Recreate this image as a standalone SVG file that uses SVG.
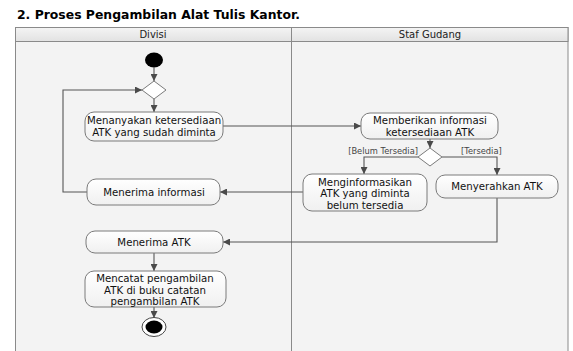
<svg xmlns="http://www.w3.org/2000/svg" width="573" height="351" viewBox="0 0 573 351">
  <defs>
    <linearGradient id="headGrad" x1="0" y1="0" x2="0" y2="1">
      <stop offset="0" stop-color="#f4f4f4"/>
      <stop offset="1" stop-color="#e2e2e2"/>
    </linearGradient>
    <linearGradient id="nodeGrad" x1="0" y1="0" x2="0" y2="1">
      <stop offset="0" stop-color="#ffffff"/>
      <stop offset="1" stop-color="#f0f0f0"/>
    </linearGradient>
    <marker id="arrow" viewBox="0 0 10 10" refX="10" refY="5" markerWidth="7" markerHeight="7" markerUnits="userSpaceOnUse" orient="auto">
      <path d="M0,0 L10,5 L0,10 Z" fill="#4a4a4a"/>
    </marker>
  </defs>
  <style>
    .title { font-family: "DejaVu Sans", Verdana, sans-serif; font-weight: bold; font-size: 12px; fill: #000; }
    .lane-title { font-family: "DejaVu Sans", Tahoma, sans-serif; font-size: 10px; fill: #222; text-anchor: middle; }
    .lane { fill: #f3f3f3; stroke: #8a8a8a; stroke-width: 1; }
    .lane-head { fill: url(#headGrad); stroke: #8a8a8a; stroke-width: 1; }
    .act { fill: url(#nodeGrad); stroke: #7a7a7a; stroke-width: 1; }
    .label { font-family: "DejaVu Sans", Tahoma, sans-serif; font-size: 10.2px; fill: #111; text-anchor: middle; }
    .guard { font-family: "DejaVu Sans", Tahoma, sans-serif; font-size: 8.3px; fill: #444; }
    .flow { fill: none; stroke: #555; stroke-width: 1.1; }
    .decision { fill: #ffffff; stroke: #7a7a7a; stroke-width: 1; }
  </style>

  <rect x="0" y="0" width="573" height="351" fill="#ffffff"/>

  <text class="title" x="17" y="19" textLength="283" lengthAdjust="spacingAndGlyphs">2. Proses Pengambilan Alat Tulis Kantor.</text>

  <!-- swimlanes -->
  <g id="lanes">
    <rect class="lane" x="15.5" y="27.5" width="276" height="330"/>
    <rect class="lane" x="291.5" y="27.5" width="276.5" height="330"/>
    <rect class="lane-head" x="15.5" y="27.5" width="276" height="14"/>
    <rect class="lane-head" x="291.5" y="27.5" width="276.5" height="14"/>
    <text class="lane-title" x="153" y="38">Divisi</text>
    <text class="lane-title" x="430" y="38">Staf Gudang</text>
  </g>

  <!-- connectors -->
  <g id="connectors">
    <path class="flow" d="M154,67.5 L154,81" marker-end="url(#arrow)"/>
    <path class="flow" d="M154,99 L154,112" marker-end="url(#arrow)"/>
    <path class="flow" d="M87,192 L63,192 L63,90 L142,90" marker-end="url(#arrow)"/>
    <path class="flow" d="M223,126 L361,126" marker-end="url(#arrow)"/>
    <path class="flow" d="M430,139 L430,148" marker-end="url(#arrow)"/>
    <path class="flow" d="M418,157 L364,157 L364,174" marker-end="url(#arrow)"/>
    <path class="flow" d="M442,157 L497,157 L497,175" marker-end="url(#arrow)"/>
    <path class="flow" d="M303,192 L220,192" marker-end="url(#arrow)"/>
    <path class="flow" d="M497,198 L497,242 L223,242" marker-end="url(#arrow)"/>
    <path class="flow" d="M154,253 L154,271" marker-end="url(#arrow)"/>
    <path class="flow" d="M154,307 L154,318" marker-end="url(#arrow)"/>
    <text class="guard" x="418" y="154" text-anchor="end">[Belum Tersedia]</text>
    <text class="guard" x="461" y="154">[Tersedia]</text>
  </g>

  <g id="start">
    <ellipse cx="154" cy="60" rx="9" ry="7.5" fill="#000"/>
  </g>

  <g id="merge">
    <path class="decision" d="M154,81 L166,90 L154,99 L142,90 Z"/>
  </g>

  <g id="menanyakan">
    <rect class="act" x="85" y="112" width="138" height="29" rx="9"/>
    <text class="label" x="154" y="124">Menanyakan ketersediaan</text>
    <text class="label" x="154" y="135.5">ATK yang sudah diminta</text>
  </g>

  <g id="memberikan">
    <rect class="act" x="361" y="113" width="137" height="26" rx="9"/>
    <text class="label" x="430" y="124">Memberikan informasi</text>
    <text class="label" x="430" y="135.5">ketersediaan ATK</text>
  </g>

  <g id="decision">
    <path class="decision" d="M430,148 L442,157 L430,166 L418,157 Z"/>
  </g>

  <g id="menginformasikan">
    <rect class="act" x="303" y="174" width="124" height="37" rx="9"/>
    <text class="label" x="365" y="185.5">Menginformasikan</text>
    <text class="label" x="365" y="197">ATK yang diminta</text>
    <text class="label" x="365" y="208.5">belum tersedia</text>
  </g>

  <g id="menyerahkan">
    <rect class="act" x="436" y="175" width="122" height="23" rx="9"/>
    <text class="label" x="497" y="190">Menyerahkan ATK</text>
  </g>

  <g id="menerima-informasi">
    <rect class="act" x="87" y="179" width="133" height="26" rx="9"/>
    <text class="label" x="154" y="195.5">Menerima informasi</text>
  </g>

  <g id="menerima-atk">
    <rect class="act" x="86" y="231" width="137" height="22" rx="9"/>
    <text class="label" x="154" y="245.5">Menerima ATK</text>
  </g>

  <g id="mencatat">
    <rect class="act" x="85" y="271" width="141" height="36" rx="9"/>
    <text class="label" x="155" y="282">Mencatat pengambilan</text>
    <text class="label" x="155" y="293.5">ATK di buku catatan</text>
    <text class="label" x="155" y="305">pengambilan ATK</text>
  </g>

  <g id="end">
    <ellipse cx="154" cy="327" rx="12" ry="9.5" fill="#ffffff" stroke="#444" stroke-width="1"/>
    <ellipse cx="154" cy="327" rx="8.5" ry="6.5" fill="#000"/>
  </g>
</svg>
